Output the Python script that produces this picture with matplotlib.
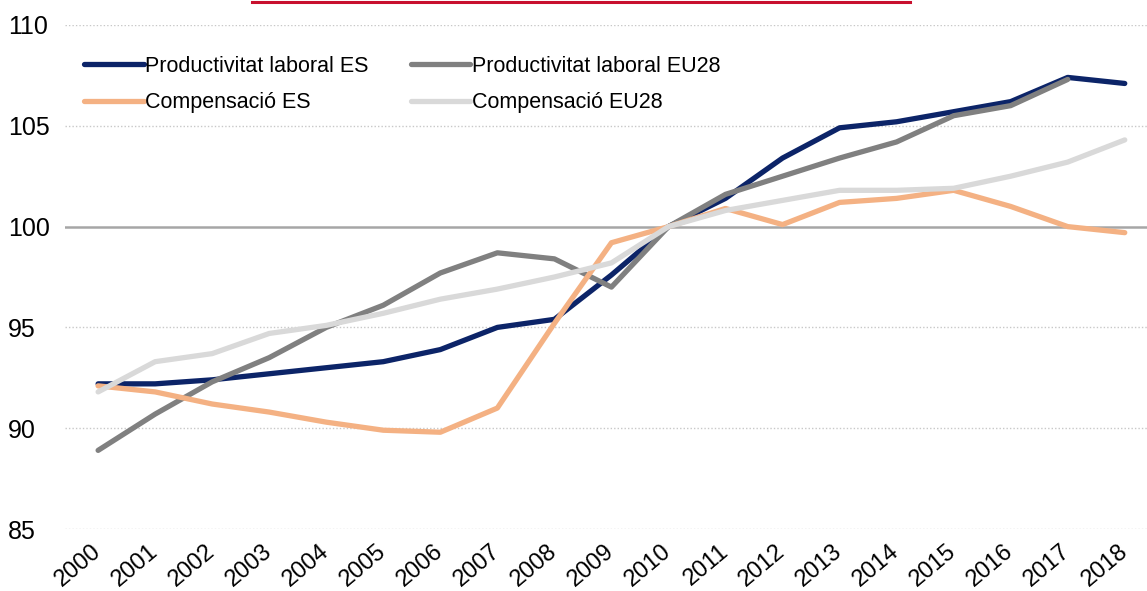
import matplotlib
matplotlib.use('Agg')
import matplotlib.pyplot as plt
import matplotlib.transforms as mtransforms
from matplotlib.lines import Line2D

# data (index, 2010 = 100)
years = list(range(2000, 2019))
prod_es = [92.2, 92.2, 92.4, 92.7, 93.0, 93.3, 93.9, 95.0, 95.4, 97.6, 100.0,
           101.4, 103.4, 104.9, 105.2, 105.7, 106.2, 107.4, 107.1]
prod_eu = [88.9, 90.7, 92.3, 93.5, 95.0, 96.1, 97.7, 98.7, 98.4, 97.0, 100.0,
           101.6, 102.5, 103.4, 104.2, 105.5, 106.0, 107.3]
comp_es = [92.1, 91.8, 91.2, 90.8, 90.3, 89.9, 89.8, 91.0, 95.2, 99.2, 100.0,
           100.9, 100.1, 101.2, 101.4, 101.8, 101.0, 100.0, 99.7]
comp_eu = [91.8, 93.3, 93.7, 94.7, 95.1, 95.7, 96.4, 96.9, 97.5, 98.2, 100.0,
           100.8, 101.3, 101.8, 101.8, 101.9, 102.5, 103.2, 104.3]
labels = ['Productivitat laboral ES', 'Productivitat laboral EU28',
          'Compensació ES', 'Compensació EU28']
colors = ['#0c2468', '#808080', '#f4b183', '#d9d9d9']
yticks = [85, 90, 95, 100, 105, 110]

plt.rcParams['font.family'] = ['Liberation Sans', 'DejaVu Sans']

fig = plt.figure(figsize=(11.47, 5.91), dpi=100)
ax = fig.add_axes([0.0567, 0.1049, 0.9433, 0.8528])

# gridlines
for v in yticks:
    if v == 100:
        ax.axhline(v, color='#a6a6a6', lw=1.8, zorder=1)
    else:
        ax.axhline(v, color='#c8c8c8', lw=1.0, ls=(0, (1, 1.5)), zorder=1)

series = [prod_es, prod_eu, comp_es, comp_eu]
lines = []
for vals, lab, col in zip(series, labels, colors):
    ln, = ax.plot(years[:len(vals)], vals, color=col, lw=3.8, label=lab,
                  solid_capstyle='round', solid_joinstyle='round', zorder=3)
    lines.append(ln)

ax.set_xlim(1999.42, 2018.39)
ax.set_ylim(85, 110)
ax.set_yticks(yticks)
ax.set_xticks(years)
ax.set_xticklabels([str(y) for y in years], rotation=40, ha='right',
                   va='center', rotation_mode='anchor', fontsize=17)
shift = mtransforms.ScaledTranslation(19 / 100, 0, fig.dpi_scale_trans)
for t in ax.get_xticklabels():
    t.set_transform(t.get_transform() + shift)
ax.tick_params(axis='x', length=0, pad=14)
ax.tick_params(axis='y', length=0, pad=41, labelsize=18)
for t in ax.get_yticklabels():
    t.set_horizontalalignment('left')
for s in ax.spines.values():
    s.set_visible(False)

# row-major legend: reorder for matplotlib's column filling
order = [0, 2, 1, 3]
ax.legend([lines[i] for i in order], [labels[i] for i in order],
          loc='upper left', ncol=2, frameon=False, fontsize=15.5,
          bbox_to_anchor=(0.0, 0.977), handlelength=2.75, handletextpad=0.05,
          columnspacing=2.0, labelspacing=0.72, borderaxespad=0.5)

# red rule at the top of the picture
fig.add_artist(Line2D([252 / 1147, 910 / 1147], [0.997, 0.997],
                      color='#c8102e', lw=2.2, transform=fig.transFigure))

fig.savefig('out.png', dpi=100)
